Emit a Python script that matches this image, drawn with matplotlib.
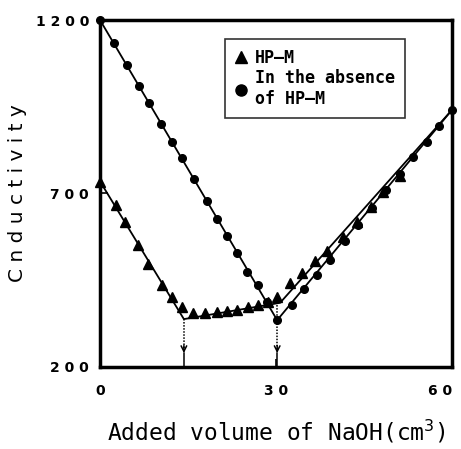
import matplotlib
matplotlib.use("Agg")
import matplotlib.pyplot as plt
from matplotlib.lines import Line2D

# HP-M (triangles)
tri_x = [0, 2.7, 4.3, 6.5, 8.2, 10.6, 12.3, 14.0, 15.9, 17.9, 19.9, 21.6, 23.4, 25.2,
         26.9, 28.6, 30.2, 32.4, 34.4, 36.6, 38.7, 41.4, 43.8, 46.2, 48.2, 51.1]
tri_y = [733, 667, 618, 552, 497, 436, 402, 373, 356, 356, 359, 361, 364, 373,
         379, 387, 402, 442, 471, 505, 534, 575, 618, 661, 704, 750]

# in the absence of HP-M (circles)
cir_x = [0, 2.4, 4.6, 6.6, 8.4, 10.4, 12.3, 14.0, 16.0, 18.2, 19.9, 21.6, 23.4, 25.1,
         26.9, 28.5, 30.2, 32.7, 34.8, 37.0, 39.2, 41.8, 44.0, 46.4, 48.7, 51.1,
         53.3, 55.7, 57.8, 60]
cir_y = [1200, 1134, 1070, 1010, 961, 900, 848, 802, 742, 678, 627, 578, 529, 474,
         436, 387, 335, 379, 425, 465, 508, 563, 609, 658, 710, 756,
         805, 848, 895, 941]

# fitted lines
tri_fit_x = [0, 14.3, 30.7, 60]
tri_fit_y = [735, 338, 385, 941]
cir_fit_x = [0, 30.2, 60]
cir_fit_y = [1200, 335, 941]

# end points (x, kink value)
end_points = [(14.3, 338), (30.2, 387)]

fig = plt.figure(figsize=(4.61, 4.49), dpi=100)
ax = fig.add_axes([100 / 461, 82 / 449, 352 / 461, 347 / 449])

ax.plot(cir_fit_x, cir_fit_y, color="black", lw=1.3, zorder=2)
ax.plot(tri_fit_x, tri_fit_y, color="black", lw=1.3, zorder=2)
ax.plot(cir_x, cir_y, "o", color="black", ms=5.5, zorder=3, clip_on=False)
ax.plot(tri_x, tri_y, "^", color="black", ms=7, zorder=3, clip_on=False)

for ex, ey in end_points:
    ax.plot([ex, ex], [ey, 250], color="black", lw=1.1, ls=(0, (1, 1)), zorder=1)
    ax.plot([ex, ex], [240, 200], color="black", lw=1.1, zorder=1, clip_on=False)
    ax.annotate("", xy=(ex, 240), xytext=(ex, 262),
                arrowprops=dict(arrowstyle="->", lw=1.1, color="black",
                                mutation_scale=10, shrinkA=0, shrinkB=0))

ax.set_xlim(0, 60)
ax.set_ylim(200, 1200)
ax.set_xticks([0, 30, 60])
ax.set_yticks([200, 700, 1200])
xl = ax.set_xticklabels(["0", "3 0", "6 0"], family="DejaVu Sans", fontsize=10, fontweight="bold")
xl[-1].set_horizontalalignment("right")
ax.set_yticklabels(["2 0 0", "7 0 0", "1 2 0 0"], family="DejaVu Sans", fontsize=10, fontweight="bold")
ax.tick_params(axis="both", direction="in", length=6, width=1.2)
ax.tick_params(axis="x", pad=12)
ax.tick_params(axis="y", pad=8)
for s in ax.spines.values():
    s.set_linewidth(2.5)

ax.set_xlabel("Added volume of NaOH(cm$^3$)", family="DejaVu Sans Mono", fontsize=16.5, labelpad=15)
ax.set_ylabel("C n d u c t i v i t y", family="DejaVu Sans", fontsize=14.5, labelpad=6)

handles = [Line2D([], [], ls="none", marker="^", color="black", ms=8),
           Line2D([], [], ls="none", marker="o", color="black", ms=8)]
leg = ax.legend(handles, ["HP\u2014M", "In the absence\nof HP\u2014M"],
                loc="upper left", bbox_to_anchor=(225 / 461, 1 - 39 / 449),
                bbox_transform=fig.transFigure, frameon=True, fancybox=False,
                edgecolor="black", handlelength=0.7, handletextpad=0.5,
                borderpad=0.6, labelspacing=0.15, borderaxespad=0,
                prop={"family": "DejaVu Sans Mono", "weight": "bold", "size": 12})
leg.get_frame().set_linewidth(1.2)

fig.savefig("out.png", dpi=100)
